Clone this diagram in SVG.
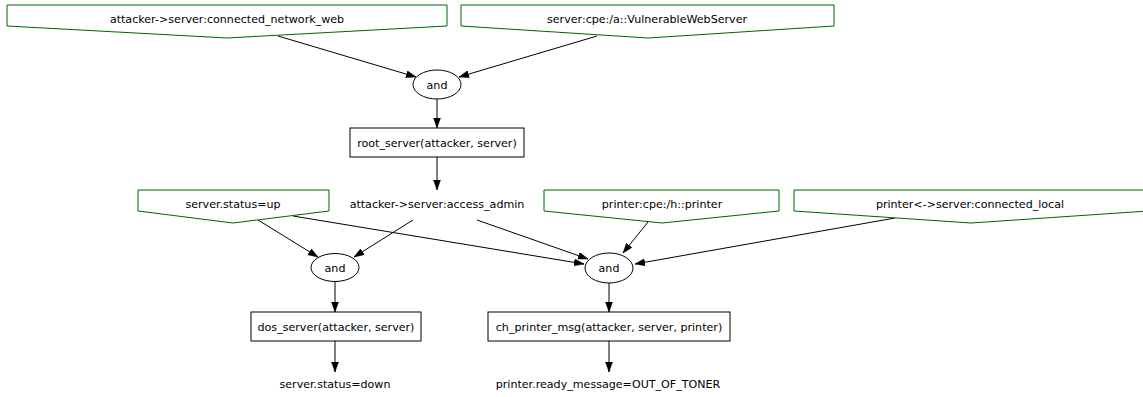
<svg xmlns="http://www.w3.org/2000/svg" width="1143" height="397" viewBox="0 0 1143 397">
  <style>
    text { font-family: "DejaVu Sans", "Liberation Sans", sans-serif; font-size: 11.1px; fill: #000; text-anchor: middle; }
    .leaf { fill: #fff; stroke: #006400; stroke-width: 1; }
    .rule { fill: #fff; stroke: #000; stroke-width: 1; }
    .edge { fill: none; stroke: #000; stroke-width: 1; marker-end: url(#arrow); }
  </style>
  <defs>
    <marker id="arrow" markerUnits="userSpaceOnUse" markerWidth="10" markerHeight="8" refX="10" refY="3.5" orient="auto">
      <path d="M0,0 L10,3.5 L0,7 z" fill="#000" stroke="#000" stroke-width="0.5"/>
    </marker>
  </defs>
  <rect width="1143" height="397" fill="#fff"/>

  <!-- edges -->
  <g id="edges">
    <line class="edge" x1="278" y1="36" x2="416" y2="77"/>
    <line class="edge" x1="597" y1="36" x2="459" y2="77"/>
    <line class="edge" x1="437" y1="99" x2="437" y2="128"/>
    <line class="edge" x1="437" y1="157" x2="437" y2="190"/>
    <line class="edge" x1="258" y1="220" x2="318" y2="257"/>
    <line class="edge" x1="413" y1="220" x2="354" y2="257"/>
    <line class="edge" x1="293" y1="216" x2="584" y2="264"/>
    <line class="edge" x1="477" y1="220" x2="588" y2="259"/>
    <line class="edge" x1="648" y1="222" x2="623" y2="253"/>
    <line class="edge" x1="895" y1="218" x2="635" y2="264"/>
    <line class="edge" x1="335" y1="281" x2="335" y2="312"/>
    <line class="edge" x1="335" y1="341" x2="335" y2="372"/>
    <line class="edge" x1="609" y1="283" x2="609" y2="312"/>
    <line class="edge" x1="609" y1="341" x2="609" y2="372"/>
  </g>

  <!-- facts (inverted houses) -->
  <g id="n_connected_network_web">
    <polygon class="leaf" points="7,5 447,5 447,26 227,38 7,26"/>
    <text x="227" y="23">attacker-&gt;server:connected_network_web</text>
  </g>
  <g id="n_vulnerable_web_server">
    <polygon class="leaf" points="461,5 834,5 834,26 648,38 461,26"/>
    <text x="647" y="23">server:cpe:/a::VulnerableWebServer</text>
  </g>
  <g id="n_status_up">
    <polygon class="leaf" points="138,190 329,190 329,211 233,223 138,211"/>
    <text x="233" y="208">server.status=up</text>
  </g>
  <g id="n_printer_cpe">
    <polygon class="leaf" points="544,190 779,190 779,211 662,223 544,211"/>
    <text x="662" y="208">printer:cpe:/h::printer</text>
  </g>
  <g id="n_connected_local">
    <polygon class="leaf" points="794,190 1148,190 1148,211 971,223 794,211"/>
    <text x="970" y="208">printer&lt;-&gt;server:connected_local</text>
  </g>

  <!-- conjunctions -->
  <g id="n_and_root">
    <ellipse class="rule" cx="437" cy="84.5" rx="24" ry="14.5"/>
    <text x="437" y="88.5">and</text>
  </g>
  <g id="n_and_dos">
    <ellipse class="rule" cx="335" cy="267.5" rx="24" ry="14"/>
    <text x="335" y="271.5">and</text>
  </g>
  <g id="n_and_printer">
    <ellipse class="rule" cx="609" cy="268" rx="24" ry="15"/>
    <text x="609" y="272">and</text>
  </g>

  <!-- exploits -->
  <g id="n_root_server">
    <rect class="rule" x="350" y="128" width="174" height="29"/>
    <text x="437" y="146.5">root_server(attacker, server)</text>
  </g>
  <g id="n_dos_server">
    <rect class="rule" x="251" y="312" width="170" height="29"/>
    <text x="336" y="330.5">dos_server(attacker, server)</text>
  </g>
  <g id="n_ch_printer_msg">
    <rect class="rule" x="488" y="312" width="242" height="29"/>
    <text x="609" y="330.5">ch_printer_msg(attacker, server, printer)</text>
  </g>

  <!-- derived states -->
  <g id="n_access_admin">
    <text x="437" y="208">attacker-&gt;server:access_admin</text>
  </g>
  <g id="n_status_down">
    <text x="335" y="388">server.status=down</text>
  </g>
  <g id="n_ready_message">
    <text x="608" y="388">printer.ready_message=OUT_OF_TONER</text>
  </g>
</svg>
